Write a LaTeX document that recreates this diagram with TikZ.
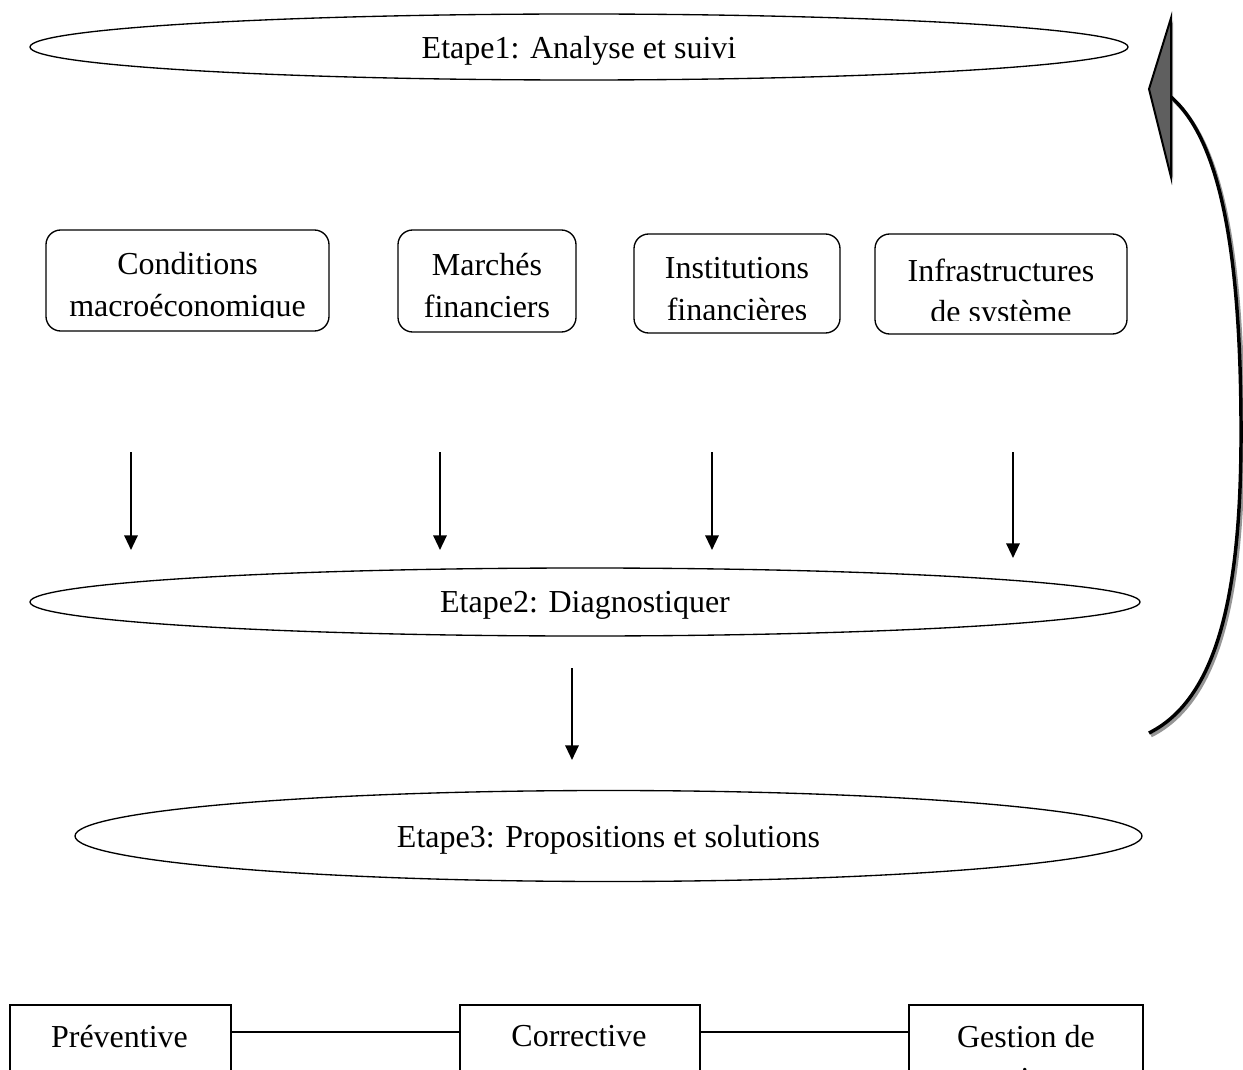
\documentclass[tikz,border=0pt]{standalone}
\usepackage{fontspec}
\setmainfont{Liberation Serif}
\usetikzlibrary{shapes.geometric,arrows.meta,calc}
\tikzset{every picture/.style={line width=0.75pt}}
\definecolor{headgray}{RGB}{95,95,95}
\definecolor{shadowgray}{RGB}{150,150,150}
\tikzset{
  stage/.style={draw, ellipse, line width=1pt, inner sep=0pt, text depth=0pt, font=\fontsize{24}{30}\selectfont},
  areabox/.style={draw, rounded corners=11pt, line width=1pt, inner sep=0pt},
  solbox/.style={draw, line width=1pt, inner sep=0pt},
  boxtext/.style={anchor=north, inner sep=0pt, align=center, font=\fontsize{24}{31}\selectfont},
  downarrow/.style={line width=1.6pt, -{Triangle[length=11pt,width=10pt]}},
  loopline/.style={line width=2.6pt, line cap=butt},
}

\begin{document}
\begin{tikzpicture}[x=0.75pt,y=0.75pt,yscale=-1,xscale=1]
\useasboundingbox (0,0) rectangle (1243,1070);

%Shape: Ellipse [etape1]
\node[stage, minimum width=823.5pt, minimum height=49.5pt] (etape1) at (579,47) {Etape1: Analyse et suivi};

%Shape: Rounded Rect [cond]
\node[areabox, minimum width=212.25pt, minimum height=75.75pt] (cond) at (187.5,280.5) {};
%Shape: Rounded Rect [marches]
\node[areabox, minimum width=133.5pt, minimum height=76.5pt] (marches) at (487,281) {};
%Shape: Rounded Rect [inst]
\node[areabox, minimum width=154.5pt, minimum height=74.25pt] (inst) at (737,283.5) {};
%Shape: Rounded Rect [infra]
\node[areabox, minimum width=189pt, minimum height=75pt] (infra) at (1001,284) {};

% Text Node
\begin{scope}
\clip (cond.north west) rectangle ($(cond.south east)+(0,-14)$);
\node[boxtext] (condtext) at (187.5,252) {Conditions\\macroéconomique};
\end{scope}
% Text Node
\begin{scope}
\clip (marches.north west) rectangle ($(marches.south east)+(0,-14)$);
\node[boxtext] (marchestext) at (487,253) {Marchés\\financiers};
\end{scope}
% Text Node
\begin{scope}
\clip (inst.north west) rectangle ($(inst.south east)+(0,-14)$);
\node[boxtext] (insttext) at (737,257) {Institutions\\financières};
\end{scope}
% Text Node
\begin{scope}
\clip (infra.north west) rectangle ($(infra.south east)+(0,-14)$);
\node[boxtext] (infratext) at (1001,258) {Infrastructures\\de système};
\end{scope}

%Straight Lines
\coordinate (d1s) at (131,452);  \coordinate (d1e) at (131,550);
\coordinate (d2s) at (440,452);  \coordinate (d2e) at (440,550);
\coordinate (d3s) at (712,452);  \coordinate (d3e) at (712,550);
\coordinate (d4s) at (1013,452); \coordinate (d4e) at (1013,558);
\draw[downarrow] (d1s) -- (d1e);
\draw[downarrow] (d2s) -- (d2e);
\draw[downarrow] (d3s) -- (d3e);
\draw[downarrow] (d4s) -- (d4e);

%Shape: Ellipse [etape2]
\node[stage, minimum width=832.5pt, minimum height=51pt] (etape2) at (585,602) {Etape2: Diagnostiquer};

%Straight Lines
\coordinate (d5s) at (572,668); \coordinate (d5e) at (572,760);
\draw[downarrow] (d5s) -- (d5e);

%Shape: Ellipse [etape3]
\node[stage, minimum width=800.25pt, minimum height=68.25pt] (etape3) at (608.5,836) {Etape3: Propositions et solutions};

%Shape: Rect [prev], [corr], [crise]
\node[solbox, minimum width=165.75pt, minimum height=90pt] (prev) at (120.5,1065) {};
\node[solbox, minimum width=180pt, minimum height=90pt] (corr) at (580,1065) {};
\node[solbox, minimum width=175.5pt, minimum height=90pt] (crise) at (1026,1065) {};

% Text Node
\node[boxtext] (prevtext) at (119.5,1025) {Préventive};
\node[boxtext] (corrtext) at (579,1025) {Corrective};
\node[boxtext] (crisetext) at (1026,1025) {Gestion de\\crise};

%Straight Lines
\draw[line width=1.3pt] ($(prev.north east)+(0,28)$) -- ($(corr.north west)+(0,28)$);
\draw[line width=1.3pt] ($(corr.north east)+(0,28)$) -- ($(crise.north west)+(0,28)$);

%Curve Lines [loop back to etape1]
\coordinate (loopstart) at (1149,733);
\coordinate (loopend) at (1171,97);
\begin{scope}[transform canvas={xshift=1.5pt,yshift=-2pt}]
\draw[loopline, shadowgray] (loopstart) .. controls (1225,695) and (1242,570) .. (1241,420) .. controls (1240,250) and (1220,140) .. (loopend);
\fill[shadowgray] (loopend) ++(0,-79) -- ++(-22,71) -- ++(22,88) -- cycle;
\end{scope}
\draw[loopline] (loopstart) .. controls (1225,695) and (1242,570) .. (1241,420) .. controls (1240,250) and (1220,140) .. (loopend);
\filldraw[fill=headgray, line width=1.5pt, line join=miter] (loopend) ++(0,-79) -- ++(-22,71) -- ++(22,88) -- cycle;

\end{tikzpicture}
\end{document}
